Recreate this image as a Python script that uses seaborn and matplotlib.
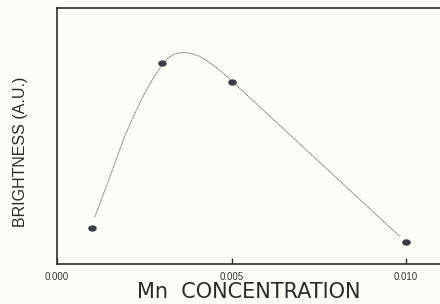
import matplotlib
matplotlib.use("Agg")
import matplotlib.pyplot as plt
from matplotlib.path import Path
from matplotlib.transforms import Affine2D
import seaborn as sns

# measured points
mn_conc = [0.001, 0.003, 0.005, 0.010]
brightness = [36, 200.7, 182.3, 21.7]

# hand-drawn fit curve
curve_x = [0.00108, 0.00151, 0.00193, 0.00222, 0.0025, 0.00278, 0.00304,
           0.00321, 0.00338, 0.00352, 0.00369, 0.00386, 0.00406, 0.00429,
           0.00457, 0.0048, 0.00503, 0.00983]
curve_y = [46.7, 86.7, 127, 150, 170, 187, 200.7,
           206.7, 210.3, 211.2, 211.4, 210.5, 208, 203.6,
           196.4, 189.6, 182.3, 27.3]

xticks = [0.0, 0.005, 0.010]
xtick_labels = ["0.000", "0.005", "0.010"]

sns.set_style("white")
plt.rcParams["font.family"] = ["DejaVu Sans"]

paper = "#fdfdf8"
ink = "#3a3d46"
axis_col = "#2e2e2e"

fig = plt.figure(figsize=(4.4, 3.04), dpi=100, facecolor=paper)
ax = fig.add_axes([57 / 440, 1 - 264 / 304, 1 - 57 / 440 + 0.01, 256 / 304])
ax.set_facecolor(paper)

sns.lineplot(x=curve_x, y=curve_y, ax=ax, color="#6a6a6a", lw=0.7,
             linestyle=(0, (1.2, 0.6)), sort=False)

ellipse = Path.unit_circle().transformed(Affine2D().scale(1.35, 1.0))
sns.scatterplot(x=mn_conc, y=brightness, ax=ax, marker=ellipse, s=38,
                color=ink, edgecolor=ink, linewidth=0, zorder=3)

ax.set_xlim(0, 0.0111)
ax.set_ylim(0, 256)
ax.set_xticks(xticks)
ax.set_xticklabels(xtick_labels, fontsize=7, color="#333333",
                   family=["Liberation Sans", "DejaVu Sans"])
ax.set_yticks([])
ax.tick_params(axis="x", length=0, pad=6)
# short inward tick marks on the bottom spine
ax.vlines(xticks, 0, 0.022, transform=ax.get_xaxis_transform(),
          color=axis_col, lw=1.0, zorder=4)

for side in ["left", "top", "bottom"]:
    ax.spines[side].set_color(axis_col)
    ax.spines[side].set_linewidth(1.2)
ax.spines["right"].set_visible(False)

fig.text(249 / 440, 1 - 292 / 304, "Mn  CONCENTRATION", ha="center", va="center",
         fontsize=15, color="#2a2a2a")
fig.text(20 / 440, 1 - 152 / 304, "BRIGHTNESS (A.U.)", ha="center", va="center",
         rotation=90, fontsize=11.5, color="#2a2a2a",
         family=["Liberation Sans", "DejaVu Sans"])

fig.savefig("out.png", dpi=100, facecolor=paper)
